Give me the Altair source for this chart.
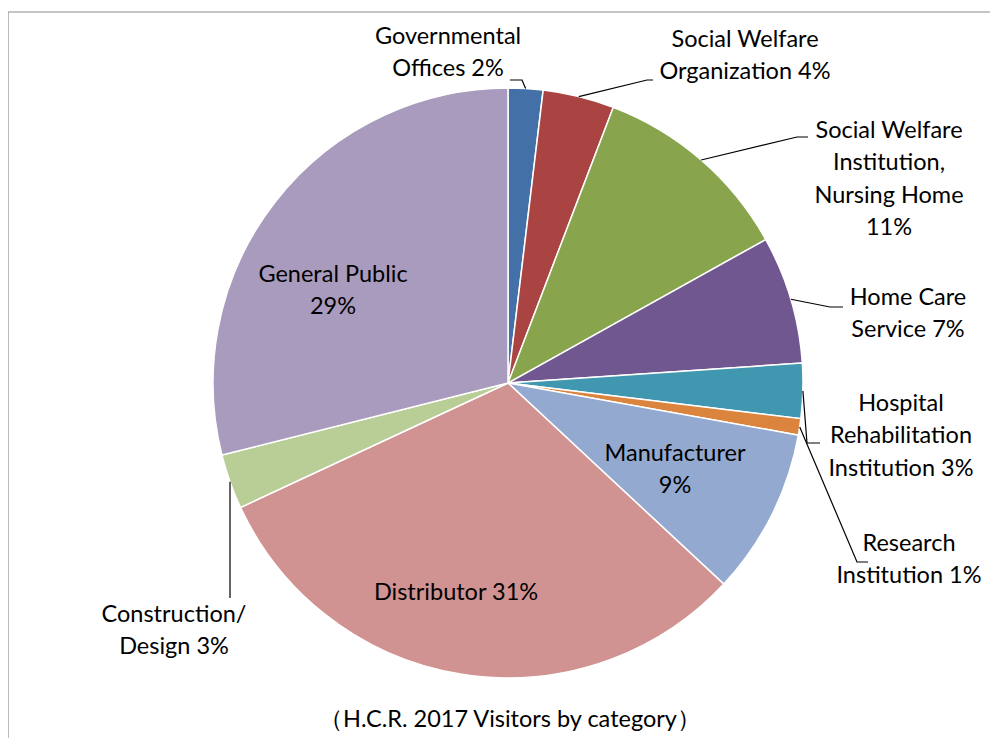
import altair as alt
import numpy as np
import pandas as pd

# ---- data ----
categories = ["Governmental Offices", "Social Welfare Organization",
              "Social Welfare Institution, Nursing Home", "Home Care Service",
              "Hospital Rehabilitation Institution", "Research Institution",
              "Manufacturer", "Distributor", "Construction/Design", "General Public"]
shares = [1.9, 3.9, 11.1, 7.0, 3.0, 0.9, 9.1, 31.1, 3.0, 28.9]
label_lines = [["Governmental", "Offices 2%"],
               ["Social Welfare", "Organization 4%"],
               ["Social Welfare", "Institution,", "Nursing Home", "11%"],
               ["Home Care", "Service 7%"],
               ["Hospital", "Rehabilitation", "Institution 3%"],
               ["Research", "Institution 1%"],
               ["Manufacturer", "9%"],
               ["Distributor 31%"],
               ["Construction/", "Design 3%"],
               ["General Public", "29%"]]
colors = ["#4470A8", "#A94442", "#88A54D", "#70578F", "#4197AF",
          "#DB843D", "#93A9CF", "#D19392", "#B9CD96", "#A99BBD"]
title_text = "（H.C.R. 2017 Visitors by category）"

# ---- layout (style) ----
W, H = 982, 730
CX, CY, R = 500, 375, 295
LH = 32.3
FS = 23.5
# label block anchor: center x, y of first line (plot coords)
label_pos = [(440, 29), (737, 32), (881, 123), (900, 290), (893, 396),
             (901, 536), (667, 446), (448, 585), (166, 607), (325, 267)]
# leader line: elbow point and end point (None = no leader)
leaders = [[(514, 72), (502, 72)],
           [(639, 72), (645, 72)],
           [(789, 129), (800, 129)],
           [(822, 299), (835, 299)],
           [(799, 435), (812, 435)],
           [(849, 554), (860, 554)],
           None, None,
           [(None, 590)],
           None]

df = pd.DataFrame({"category": categories, "share": shares,
                   "idx": list(range(len(categories)))})

# label rows
rows = []
for i, lines in enumerate(label_lines):
    x0, y0 = label_pos[i]
    for j, t in enumerate(lines):
        rows.append({"category": categories[i], "text": t, "lx": x0, "ly": y0 + j * LH})
labels = pd.DataFrame(rows)

# leader lines: start at slice mid-angle on the rim (derived from the data)
cum = np.cumsum(shares)
tot = cum[-1]
mids = (cum - np.array(shares) / 2) / tot * 2 * np.pi
lrows = []
for i, ld in enumerate(leaders):
    if ld is None:
        continue
    sx = CX + R * np.sin(mids[i])
    sy = CY - R * np.cos(mids[i])
    pts = [(sx, sy)]
    for (px, py) in ld:
        pts.append((sx if px is None else px, py))
    for k, (px, py) in enumerate(pts):
        lrows.append({"category": categories[i], "k": k, "px": px, "py": py})
lines_df = pd.DataFrame(lrows)

frame_df = pd.DataFrame({"x": [0], "y": [4], "x2": [1200], "y2": [1000]})

frame = alt.Chart(frame_df).mark_rect(fill="white", stroke="#8c8c8c", strokeWidth=1.2).encode(
    x=alt.X("x:Q", scale=None), y=alt.Y("y:Q", scale=None),
    x2="x2:Q", y2="y2:Q")

pie = alt.Chart(df).mark_arc(outerRadius=R, stroke="white", strokeWidth=1.5).encode(
    theta=alt.Theta("share:Q", stack=True),
    order=alt.Order("idx:Q"),
    color=alt.Color("category:N", scale=alt.Scale(domain=categories, range=colors), legend=None),
    x=alt.value(CX), y=alt.value(CY))

leader = alt.Chart(lines_df).mark_line(color="black", strokeWidth=1.2).encode(
    x=alt.X("px:Q", scale=None), y=alt.Y("py:Q", scale=None),
    detail="category:N", order="k:Q")

text = alt.Chart(labels).mark_text(font="Lato", fontSize=FS, color="black",
                                   align="center", baseline="middle").encode(
    x=alt.X("lx:Q", scale=None), y=alt.Y("ly:Q", scale=None), text="text:N")

title = alt.Chart(pd.DataFrame({"t": [title_text]})).mark_text(
    font="Lato", fontSize=FS, color="black", align="center", baseline="middle").encode(
    x=alt.value(502), y=alt.value(712), text="t:N")

chart = alt.layer(frame, pie, leader, text, title).properties(
    width=W, height=H, padding=0,
    autosize=alt.AutoSizeParams(type="none")
).configure_view(strokeWidth=0)

chart.save("out.html", embed_options={"renderer": "svg", "actions": False})
